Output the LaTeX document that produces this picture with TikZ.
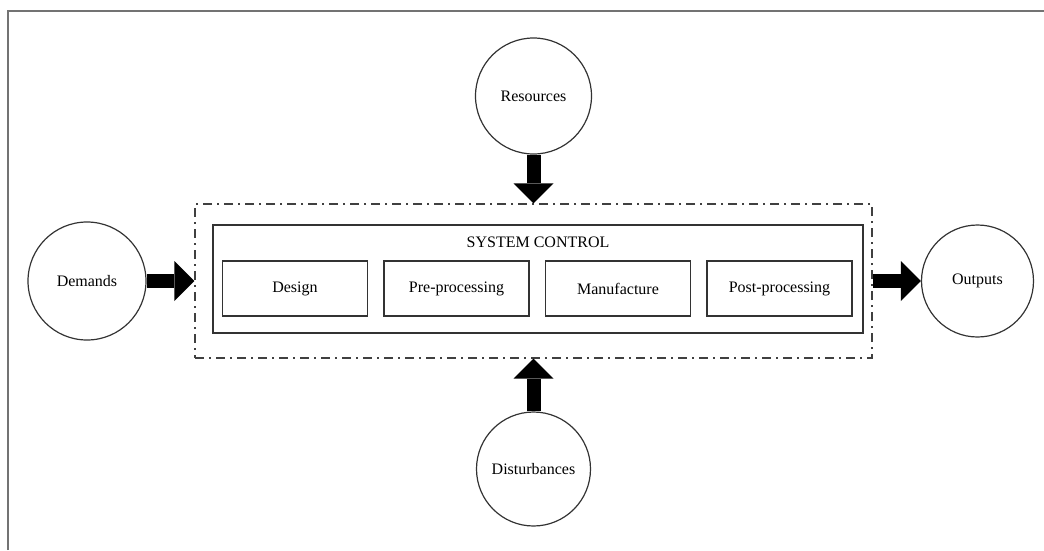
\documentclass[tikz,border=0pt]{standalone}
\usepackage{fontspec}
\setmainfont{Liberation Serif}
\usetikzlibrary{arrows.meta}

\tikzset{
  entity/.style={draw=black!80, line width=1.2pt, circle, minimum size=116pt,
    inner sep=0pt, font=\fontsize{16}{19}\selectfont},
  stage/.style={draw=black!80, line width=1.2pt, minimum width=145pt,
    minimum height=55pt, inner sep=0pt, font=\fontsize{16}{19}\selectfont},
  flow/.style={line width=14pt,
    -{Triangle[length=20pt,width=40pt,line width=0pt]}},
}

\begin{document}
\begin{tikzpicture}[x=1pt,y=-1pt]
    \useasboundingbox (0,0) rectangle (1044,550);
    % page frame
    \draw[black!55, line width=2pt] (8,550) -- (8,11) -- (1044,11);
    % system boundary
    \node[draw=black!75, line width=1.2pt,
      dash pattern=on 9pt off 5pt on 2pt off 5pt,
      minimum width=677pt, minimum height=154pt] (frame) at (533.5,281) {};
    \node[draw=black!80, line width=1.2pt,
      minimum width=650pt, minimum height=108pt] (ctrl) at (538,279) {};
    \node[font=\fontsize{16}{19}\selectfont] (title) at (538,242) {SYSTEM CONTROL};
    \foreach \name/\label [count=\i from 0] in
      {design/Design, pre/Pre-processing, manu/Manufacture, post/Post-processing}
      \node[stage] (\name) at (295+161.5*\i,288.5) {\label};
    % surroundings
    \node[entity, minimum size=118pt] (dem) at (87,281) {Demands};
    \node[entity, minimum size=112pt] (out) at (977.5,281) {Outputs};
    \node[entity] (res) at (533.5,96) {Resources};
    \node[entity, minimum size=114pt] (dist) at (533.5,469) {Disturbances};
    % flows
    \draw[flow] (dem) -- (frame);
    \draw[flow] (frame) -- (out);
    \draw[flow] (res) -- (frame);
    \draw[flow] (dist) -- (frame);
  \end{tikzpicture}
\end{document}
